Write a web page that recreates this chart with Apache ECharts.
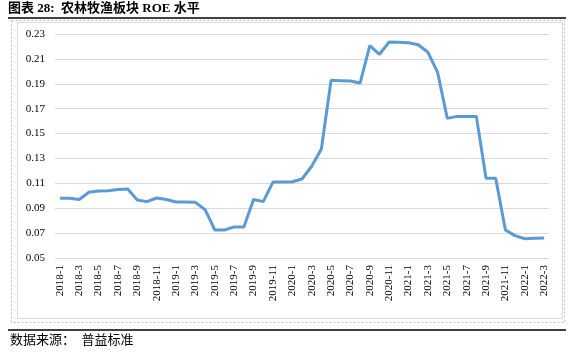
<!DOCTYPE html>
<html>
<head>
<meta charset="utf-8">
<script src="https://cdn.jsdelivr.net/npm/echarts@6/dist/echarts.min.js"></script>
<style>
  html, body { margin: 0; padding: 0; background: #fff; }
  #chart { width: 575px; height: 352px; }
</style>
</head>
<body>
<div id="chart"></div>
<script>
// 月份 2018-1 ~ 2022-3
var months = [];
for (var y = 2018; y <= 2022; y++) {
    for (var m = 1; m <= 12; m++) {
        if (y == 2022 && m > 3) break;
        months.push(y + '-' + m);
    }
}

// ROE 数值
var roe = [
    0.098, 0.098, 0.097, 0.1028, 0.1038, 0.104, 0.105, 0.1054, 0.0966, 0.0953, 0.0982, 0.097,
    0.095, 0.095, 0.0947, 0.0888, 0.0725, 0.0725, 0.075, 0.075, 0.097, 0.0953, 0.111, 0.111,
    0.1113, 0.1135, 0.1237, 0.1376, 0.1928, 0.1925, 0.1922, 0.1906, 0.2206, 0.2137, 0.2236, 0.2233,
    0.223, 0.2214, 0.2153, 0.1992, 0.1622, 0.1638, 0.1638, 0.1638, 0.114, 0.114, 0.0725, 0.068,
    0.0655, 0.0658, 0.066
];

var titleText = '图表 28:  农林牧渔板块 ROE 水平';
var sourceText = '数据来源：  普益标准';

var myChart = echarts.init(document.getElementById('chart'));
var option = {
    animation: false,
    grid: {
        left: 55,
        right: 26,
        top: 34,
        bottom: 94
    },
    xAxis: {
        type: 'category',
        data: months,
        boundaryGap: true,
        axisLine: { show: false },
        axisTick: { show: false },
        axisLabel: {
            interval: 1,
            rotate: 90,
            margin: 7,
            fontFamily: 'Liberation Serif',
            fontSize: 11,
            color: '#000'
        }
    },
    yAxis: {
        type: 'value',
        min: 0.05,
        max: 0.23,
        interval: 0.02,
        axisLine: { show: false },
        axisTick: { show: false },
        splitLine: { lineStyle: { color: '#d9d9d9', width: 1 } },
        axisLabel: {
            margin: 10,
            fontFamily: 'Liberation Serif',
            fontSize: 11,
            color: '#000',
            formatter: function (v) { return v.toFixed(2); }
        }
    },
    series: [{
        type: 'line',
        data: roe,
        symbol: 'none',
        lineStyle: { color: '#5b9bd5', width: 3 }
    }],
    graphic: [
        {
            type: 'text',
            left: 8,
            top: 2,
            style: {
                text: titleText,
                font: 'bold 13px "Liberation Serif", "Noto Sans CJK SC"',
                fill: '#000'
            }
        },
        {
            type: 'line',
            shape: { x1: 8, y1: 18, x2: 566, y2: 18 },
            style: { stroke: '#000', lineWidth: 1.5 }
        },
        {
            type: 'rect',
            shape: { x: 11.5, y: 20.5, width: 553, height: 302 },
            style: { fill: 'none', stroke: '#bbb', lineWidth: 1, lineDash: [2, 2] }
        },
        {
            type: 'rect',
            shape: { x: 17.5, y: 22.5, width: 545, height: 296 },
            style: { fill: 'none', stroke: '#d9d9d9', lineWidth: 1 }
        },
        {
            type: 'line',
            shape: { x1: 8, y1: 330, x2: 566, y2: 330 },
            style: { stroke: '#000', lineWidth: 1.5 }
        },
        {
            type: 'text',
            left: 10,
            top: 334,
            style: {
                text: sourceText,
                font: '13px "Liberation Serif", "Noto Sans CJK SC"',
                fill: '#000'
            }
        }
    ]
};
myChart.setOption(option);
</script>
</body>
</html>
